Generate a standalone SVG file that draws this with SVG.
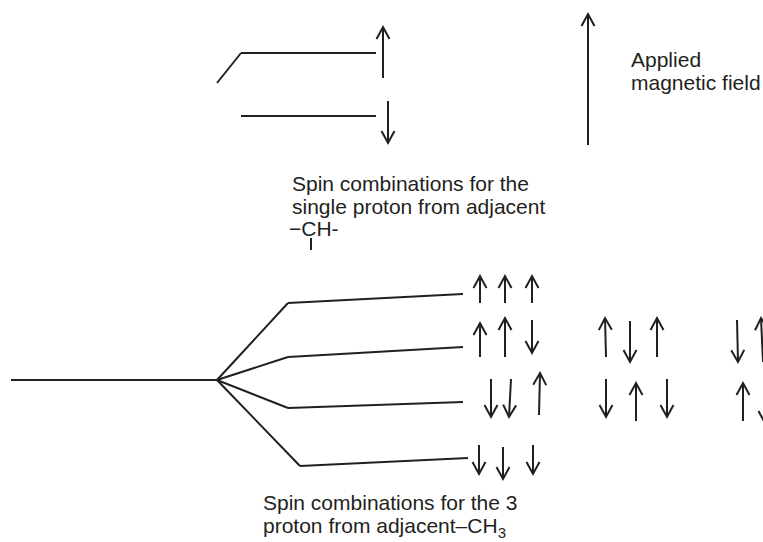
<svg xmlns="http://www.w3.org/2000/svg" width="763" height="542" viewBox="0 0 763 542">
<style>
.ln{fill:none;stroke:#231f20;stroke-width:2;stroke-linecap:butt;stroke-linejoin:miter}
.ar{fill:none;stroke:#231f20;stroke-width:2;marker-end:url(#head)}
.tx{font-family:"Liberation Sans",Arial,Helvetica,sans-serif;font-size:21px;fill:#231f20}
</style>
<defs>
<marker id="head" viewBox="-13 -8 15 16" markerWidth="15" markerHeight="16" refX="0" refY="0" orient="auto" markerUnits="userSpaceOnUse" overflow="visible">
<path d="M-12,-6.5 L0,0 L-12,6.5" fill="none" stroke="#231f20" stroke-width="2"/>
</marker>
</defs>
<rect width="763" height="542" fill="#ffffff"/>

<g id="field">
<line class="ar" x1="588" y1="145" x2="588" y2="14"/>
<text class="tx" x="631" y="67">Applied</text>
<text class="tx" x="631" y="90">magnetic field</text>
</g>

<g id="ch-levels">
<line class="ln" x1="241" y1="53" x2="376" y2="53"/>
<line class="ln" x1="241" y1="116" x2="376" y2="116"/>
<line class="ar" x1="383" y1="78" x2="383" y2="27"/>
<line class="ar" x1="388" y1="101" x2="388" y2="143"/>
</g>

<g id="ch-label">
<text class="tx" x="292" y="191">Spin combinations for the</text>
<text class="tx" x="292" y="214">single proton from adjacent</text>
<text class="tx" x="289" y="236">−CH-</text>
<line class="ln" x1="311" y1="238" x2="311" y2="250"/>
</g>

<g id="ch3-base">
<line class="ln" x1="11" y1="380" x2="217" y2="380"/>
</g>

<g id="ch3-levels">
<line class="ln" x1="288" y1="303" x2="463" y2="294"/>
<line class="ln" x1="288" y1="357" x2="463" y2="347"/>
<line class="ln" x1="288" y1="408" x2="463" y2="402"/>
<line class="ln" x1="300" y1="466" x2="468" y2="458"/>
</g>

<g id="connectors">
<polyline class="ln" points="217,83 241,53"/>
<line class="ln" x1="217" y1="380" x2="288" y2="303"/>
<line class="ln" x1="217" y1="380" x2="288" y2="357"/>
<line class="ln" x1="217" y1="380" x2="288" y2="408"/>
<line class="ln" x1="217" y1="380" x2="300" y2="466"/>
</g>

<g id="spins-row1">
<line class="ar" x1="480" y1="303" x2="480" y2="276"/>
<line class="ar" x1="505" y1="303" x2="505" y2="276"/>
<line class="ar" x1="532" y1="303" x2="532" y2="276"/>
</g>

<g id="spins-row2">
<line class="ar" x1="480" y1="357" x2="480" y2="323"/>
<line class="ar" x1="505" y1="357" x2="505" y2="318"/>
<line class="ar" x1="532" y1="320" x2="532" y2="353"/>
<line class="ar" x1="606" y1="357" x2="605" y2="318"/>
<line class="ar" x1="630" y1="321" x2="630" y2="362"/>
<line class="ar" x1="657" y1="357" x2="657" y2="318"/>
<line class="ar" x1="737" y1="320" x2="738" y2="362"/>
<line class="ar" x1="763" y1="362" x2="761" y2="318"/>
</g>

<g id="spins-row3">
<line class="ar" x1="491" y1="379" x2="491" y2="417"/>
<line class="ar" x1="511" y1="379" x2="509" y2="417"/>
<line class="ar" x1="539" y1="415" x2="540" y2="373"/>
<line class="ar" x1="606" y1="379" x2="606" y2="417"/>
<line class="ar" x1="636" y1="421" x2="636" y2="383"/>
<line class="ar" x1="667" y1="379" x2="667" y2="417"/>
<line class="ar" x1="743" y1="421" x2="743" y2="383"/>
<line class="ar" x1="765" y1="383" x2="765" y2="423"/>
</g>

<g id="spins-row4">
<line class="ar" x1="479" y1="445" x2="479" y2="474"/>
<line class="ar" x1="503" y1="447" x2="503" y2="479"/>
<line class="ar" x1="533" y1="445" x2="533" y2="474"/>
</g>

<g id="ch3-label">
<text class="tx" x="263" y="510">Spin combinations for the 3</text>
<text class="tx" x="263" y="533">proton from adjacent–CH<tspan font-size="15" dy="5">3</tspan></text>
</g>
</svg>
